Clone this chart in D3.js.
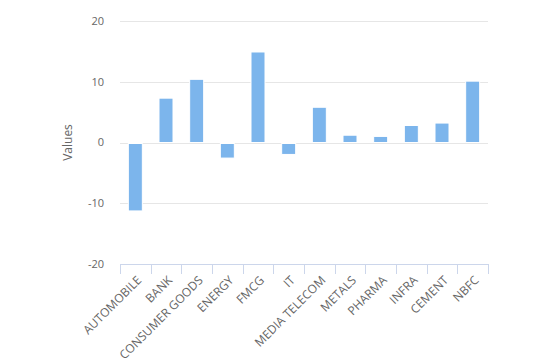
<!DOCTYPE html>
<html>
<head>
<meta charset="utf-8">
<script src="https://cdn.jsdelivr.net/npm/d3@7"></script>
<style>
  body { margin: 0; background: #fff; }
  text { font-family: "Open Sans", "DejaVu Sans", sans-serif; }
</style>
</head>
<body>
<div id="chart"></div>
<script>
const width = 534;
const height = 358;

const marginLeft = 120;
const marginRight = 46;
const marginTop = 21;
const marginBottom = 94;

// sectors and their values
const sectors = ["AUTOMOBILE", "BANK", "CONSUMER GOODS", "ENERGY", "FMCG", "IT",
                 "MEDIA TELECOM", "METALS", "PHARMA", "INFRA", "CEMENT", "NBFC"];
const values = [-11.1, 7.3, 10.4, -2.4, 14.9, -1.8, 5.8, 1.2, 1.0, 2.8, 3.2, 10.1];
const yTicks = [-20, -10, 0, 10, 20];

const svg = d3.select("#chart").append("svg")
    .attr("width", width)
    .attr("height", height);

const g = svg.append("g").attr("transform", `translate(${marginLeft}, ${marginTop})`);

const innerW = width - marginLeft - marginRight;
const innerH = height - marginTop - marginBottom;

const x = d3.scaleBand().domain(sectors).range([0, innerW]);
const y = d3.scaleLinear().domain([-20, 20]).range([innerH, 0]);

// grid lines
g.append("g").selectAll("line")
  .data(yTicks.filter(d => d > -20))
  .join("line")
    .attr("x1", 0).attr("x2", innerW)
    .attr("y1", d => Math.round(y(d)) + 0.5).attr("y2", d => Math.round(y(d)) + 0.5)
    .attr("stroke", "#e6e6e6");

// y tick labels
g.append("g").selectAll("text")
  .data(yTicks)
  .join("text")
    .attr("x", -16)
    .attr("y", d => y(d))
    .attr("dy", "0.35em")
    .attr("text-anchor", "end")
    .attr("fill", "#666")
    .style("font-size", "11px")
    .text(d => d);

// y axis title
svg.append("text")
    .attr("transform", `translate(72, ${marginTop + y(0)}) rotate(-90)`)
    .attr("text-anchor", "middle")
    .attr("fill", "#666")
    .style("font-size", "12px")
    .text("Values");

// bars
const bw = 14;
g.selectAll(".bar")
  .data(values)
  .join("rect")
    .attr("class", "bar")
    .attr("x", (d, i) => x(sectors[i]) + x.bandwidth() / 2 - bw / 2)
    .attr("width", bw)
    .attr("y", d => d >= 0 ? y(d) : y(0) + 1)
    .attr("height", d => Math.abs(y(d) - y(0)))
    .attr("fill", "#7cb5ec")
    .attr("stroke", "#fff")
    .attr("stroke-width", 1);

// x axis
const xAxis = g.append("g")
    .attr("transform", `translate(0, ${innerH})`);
xAxis.append("line")
    .attr("x1", 0).attr("x2", innerW)
    .attr("y1", 0.5).attr("y2", 0.5)
    .attr("stroke", "#ccd6eb");
xAxis.selectAll(".tick")
  .data(d3.range(sectors.length + 1))
  .join("line")
    .attr("x1", i => Math.round(i * x.step()) + 0.5)
    .attr("x2", i => Math.round(i * x.step()) + 0.5)
    .attr("y1", 0).attr("y2", 10)
    .attr("stroke", "#ccd6eb");
xAxis.selectAll(".lbl")
  .data(sectors)
  .join("text")
    .attr("transform", d => `translate(${x(d) + x.bandwidth() / 2 + 4}, 14) rotate(-45)`)
    .attr("text-anchor", "end")
    .attr("dy", "0.35em")
    .attr("fill", "#666")
    .style("font-size", "12px")
    .text(d => d);
</script>
</body>
</html>
